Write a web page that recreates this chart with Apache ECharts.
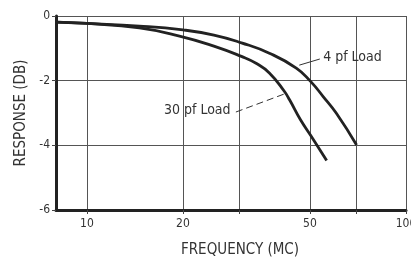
<!DOCTYPE html>
<html><head><meta charset="utf-8">
<script src="https://cdn.jsdelivr.net/npm/echarts@6/dist/echarts.min.js"></script>
<style>html,body{margin:0;padding:0;background:#fff}#c{width:411px;height:260px}</style>
</head><body><div id="c"></div>
<script>
// Frequency (MC) and response (dB)
const freq4pf = [8, 10, 14.6, 20, 25, 30.5, 37.3, 45.3, 50.3, 55.0, 60.5, 70];
const resp4pf = [-0.19, -0.23, -0.31, -0.43, -0.59, -0.83, -1.15, -1.61, -2.03, -2.49, -3.01, -3.99];
const freq30pf = [8, 10, 14.6, 19.5, 25, 30.5, 34, 37.3, 41.5, 43.2, 46.7, 51.4, 56.4];
const resp30pf = [-0.19, -0.23, -0.37, -0.62, -0.93, -1.25, -1.47, -1.76, -2.32, -2.60, -3.21, -3.84, -4.47];
const xTickValues = [10, 20, 30, 50, 70, 100];
const xLabelValues = [10, 20, 50, 100];
const yTicks = [0, -2, -4, -6];
const label4 = '4 pf Load';
const label30 = '30 pf Load';

const FONT = "'Liberation Sans Narrow', 'DejaVu Sans Condensed', sans-serif";
const zip = (a, b) => a.map((v, i) => [v, b[i]]);

const chart = echarts.init(document.getElementById('c'), null, {renderer: 'canvas'});
chart.setOption({
  animation: false,
  backgroundColor: '#fff',
  grid: {left: 56, right: 5, top: 16, bottom: 50, containLabel: false, outerBoundsMode: 'none'},
  xAxis: {
    type: 'log', logBase: 10, min: 8, max: 100,
    name: 'FREQUENCY (MC)', nameLocation: 'middle', nameGap: 33,
    nameTextStyle: {fontFamily: FONT, fontSize: 15, color: '#333', padding: [0, 0, 0, 18]},
    axisLine: {show: true, onZero: false, lineStyle: {color: '#222', width: 3}},
    axisTick: {show: true, length: 4, customValues: xTickValues, lineStyle: {color: '#444', width: 1}},
    axisLabel: {customValues: xLabelValues, fontFamily: FONT, fontSize: 12, color: '#333', margin: 8, hideOverlap: false},
    splitLine: {show: true, lineStyle: {color: '#555', width: 1}},
    minorTick: {show: false}
  },
  yAxis: {
    type: 'value', min: -6, max: 0, interval: 2,
    name: 'RESPONSE (DB)', nameLocation: 'middle', nameGap: 27, nameRotate: 90,
    nameTextStyle: {fontFamily: FONT, fontSize: 15, color: '#333'},
    axisLine: {show: true, onZero: false, lineStyle: {color: '#222', width: 3}},
    axisTick: {show: true, length: 4, lineStyle: {color: '#444', width: 1}},
    axisLabel: {fontFamily: FONT, fontSize: 12, color: '#333', margin: 6,
      formatter: v => yTicks.includes(v) ? String(v) : ''},
    splitLine: {show: true, lineStyle: {color: '#555', width: 1}}
  },
  series: [
    {
      name: label4, type: 'line', smooth: 0.5, symbol: 'none',
      data: zip(freq4pf, resp4pf),
      lineStyle: {color: '#222', width: 2.8},
      markLine: {
        silent: true, symbol: ['none', 'arrow'], symbolSize: [0, 7],
        lineStyle: {color: '#333', width: 1, type: 'solid'},
        label: {show: false},
        data: [[{coord: [53.7, -1.33]}, {coord: [46.3, -1.52]}]]
      },
      markPoint: {
        symbol: 'circle', symbolSize: 0,
        label: {show: true, position: 'right', distance: 0, formatter: label4,
          fontFamily: FONT, fontSize: 14, color: '#333'},
        data: [{coord: [55.0, -1.29]}]
      }
    },
    {
      name: label30, type: 'line', smooth: 0.5, symbol: 'none',
      data: zip(freq30pf, resp30pf),
      lineStyle: {color: '#222', width: 2.8},
      markLine: {
        silent: true, symbol: ['none', 'arrow'], symbolSize: [0, 7],
        lineStyle: {color: '#333', width: 1, type: [7, 4]},
        label: {show: false},
        data: [[{coord: [29.3, -2.97]}, {coord: [41.6, -2.41]}]]
      },
      markPoint: {
        symbol: 'circle', symbolSize: 0,
        label: {show: true, position: 'left', distance: 0, formatter: label30,
          fontFamily: FONT, fontSize: 14, color: '#333'},
        data: [{coord: [28.2, -2.91]}]
      }
    }
  ]
});
</script></body></html>
